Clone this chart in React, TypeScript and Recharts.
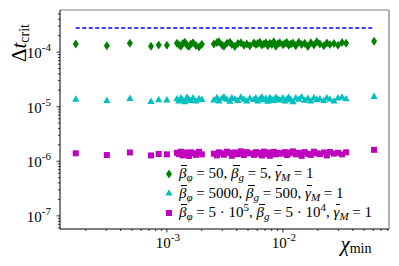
import React from 'react';
import { Legend, ReferenceLine, Scatter, ScatterChart, XAxis, YAxis } from 'recharts';

// chi_min of every run (shared by the three parameter sets)
const chiMin = [
  1.64e-4, 3.04e-4, 4.8e-4, 7.3e-4, 8.5e-4, 1.0e-3,
  1.22e-3, 1.27e-3, 1.32e-3, 1.37e-3, 1.43e-3, 1.49e-3, 1.55e-3, 1.61e-3, 1.68e-3, 1.78e-3, 1.89e-3, 2.0e-3,
  2.54e-3, 2.7e-3, 2.81e-3, 2.98e-3, 3.1e-3, 3.29e-3, 3.49e-3, 3.63e-3, 3.85e-3, 4.09e-3, 4.34e-3, 4.61e-3, 4.89e-3, 5.19e-3,
  5.62e-3, 5.85e-3, 6.08e-3, 6.33e-3, 6.58e-3, 6.85e-3, 7.12e-3, 7.41e-3, 7.71e-3, 8.02e-3, 8.34e-3, 8.68e-3, 9.03e-3, 9.39e-3,
  1.0e-2, 1.04e-2, 1.08e-2, 1.12e-2, 1.17e-2, 1.22e-2, 1.29e-2, 1.37e-2, 1.45e-2, 1.54e-2, 1.64e-2, 1.74e-2, 1.85e-2, 1.96e-2,
  2.08e-2, 2.25e-2, 2.39e-2, 2.54e-2, 2.75e-2, 2.98e-2, 3.23e-2, 3.5e-2,
  6.1e-2,
];

// dt_crit, beta_phi = 50 (units of 1e-4)
const dtGreen = [
  1.4, 1.3, 1.45, 1.28, 1.35, 1.33,
  1.45, 1.36, 1.28, 1.43, 1.52, 1.34, 1.26, 1.41, 1.49, 1.32, 1.24, 1.39,
  1.41, 1.5, 1.54, 1.35, 1.28, 1.45, 1.52, 1.37, 1.26, 1.43, 1.48, 1.34, 1.41, 1.3,
  1.46, 1.37, 1.43, 1.52, 1.35, 1.4, 1.49, 1.31, 1.45, 1.37, 1.54, 1.28, 1.42, 1.48,
  1.36, 1.44, 1.5, 1.33, 1.4, 1.46, 1.3, 1.52, 1.37, 1.45, 1.27, 1.49, 1.35, 1.54,
  1.4, 1.31, 1.47, 1.37, 1.43, 1.34, 1.5, 1.45,
  1.58,
];

// dt_crit, beta_phi = 5000 (units of 1e-5)
const dtCyan = [
  1.38, 1.3, 1.42, 1.25, 1.35, 1.33,
  1.4, 1.28, 1.46, 1.34, 1.24, 1.5, 1.38, 1.3, 1.45, 1.27, 1.41, 1.36,
  1.33, 1.47, 1.28, 1.43, 1.52, 1.37, 1.26, 1.46, 1.4, 1.31, 1.5, 1.38, 1.28, 1.44,
  1.36, 1.45, 1.28, 1.41, 1.51, 1.34, 1.43, 1.26, 1.47, 1.38, 1.3, 1.49, 1.4, 1.33,
  1.46, 1.28, 1.4, 1.5, 1.35, 1.24, 1.45, 1.38, 1.52, 1.32, 1.43, 1.27, 1.47, 1.36,
  1.4, 1.3, 1.46, 1.38, 1.28, 1.45, 1.5, 1.4,
  1.55,
];

// dt_crit, beta_phi = 5e5 (units of 1e-6)
const dtMagenta = [
  1.4, 1.3, 1.45, 1.28, 1.36, 1.34,
  1.43, 1.35, 1.5, 1.28, 1.45, 1.37, 1.25, 1.46, 1.4, 1.31, 1.49, 1.34,
  1.38, 1.28, 1.46, 1.4, 1.32, 1.5, 1.43, 1.26, 1.45, 1.35, 1.52, 1.3, 1.47, 1.4,
  1.31, 1.47, 1.37, 1.43, 1.28, 1.5, 1.35, 1.45, 1.26, 1.4, 1.49, 1.34, 1.43, 1.38,
  1.4, 1.47, 1.3, 1.38, 1.45, 1.52, 1.34, 1.43, 1.26, 1.47, 1.37, 1.31, 1.5, 1.4,
  1.35, 1.45, 1.28, 1.48, 1.38, 1.43, 1.34, 1.46,
  1.62,
];

const critLimit = 2.75e-4;

const xDomain = [1.2e-4, 8.2e-2];
const yDomain = [5.75e-8, 5.9e-4];
const xMajor = [1e-3, 1e-2];
const xMajorExp = ['3', '2'];
const yMajor = [1e-7, 1e-6, 1e-5, 1e-4];
const yMajorExp = ['7', '6', '5', '4'];

const legendPhi = ['50', '5000', '5 · 10'];
const legendPhiExp = ['', '', '5'];
const legendG = ['5', '500', '5 · 10'];
const legendGExp = ['', '', '4'];

const GREEN = '#008000';
const CYAN = '#00bfbf';
const MAGENTA = '#bf00bf';
const FONT = '"Liberation Serif", "DejaVu Serif", serif';

function logTicks(lo: number, hi: number) {
  const out: number[] = [];
  for (let e = Math.floor(Math.log10(lo)); e <= Math.ceil(Math.log10(hi)); e++) {
    for (let m = 1; m < 10; m++) {
      const v = m * Math.pow(10, e);
      if (v >= lo && v <= hi) out.push(v);
    }
  }
  return out;
}

const xTicks = logTicks(xDomain[0], xDomain[1]);
const yTicks = logTicks(yDomain[0], yDomain[1]);

const majorIndex = (v: number, majors: number[]) =>
  majors.findIndex((m) => Math.abs(v / m - 1) < 1e-6);

const greenData = chiMin.map((x, i) => ({ x, y: dtGreen[i] * 1e-4 }));
const cyanData = chiMin.map((x, i) => ({ x, y: dtCyan[i] * 1e-5 }));
const magentaData = chiMin.map((x, i) => ({ x, y: dtMagenta[i] * 1e-6 }));

function XTick(props: any) {
  const { x, y, payload } = props;
  const idx = majorIndex(payload.value, xMajor);
  const major = idx >= 0;
  return (
    <g>
      <line x1={x} x2={x} y1={y} y2={y + (major ? 3.5 : 2)} stroke="#000" strokeWidth={0.8} />
      {major && (
        <text x={x + 1} y={y + 19} textAnchor="middle" fontFamily={FONT} fontSize={15} fill="#000">
          10
          <tspan fontSize={11} dy={-7}>
            {'-' + xMajorExp[idx]}
          </tspan>
        </text>
      )}
    </g>
  );
}

function YTick(props: any) {
  const { x, y, payload } = props;
  const idx = majorIndex(payload.value, yMajor);
  const major = idx >= 0;
  return (
    <g>
      <line x1={x - (major ? 3.5 : 2)} x2={x} y1={y} y2={y} stroke="#000" strokeWidth={0.8} />
      {major && (
        <text x={x - 9} y={y + 6} textAnchor="end" fontFamily={FONT} fontSize={15} fill="#000">
          10
          <tspan fontSize={11} dy={-7}>
            {'-' + yMajorExp[idx]}
          </tspan>
        </text>
      )}
    </g>
  );
}

const Diamond = (p: any) => (
  <polygon
    points={`${p.cx},${p.cy - 4.5} ${p.cx + 3},${p.cy} ${p.cx},${p.cy + 4.5} ${p.cx - 3},${p.cy}`}
    fill={GREEN}
  />
);
const Triangle = (p: any) => (
  <polygon
    points={`${p.cx},${p.cy - 3.8} ${p.cx + 3.6},${p.cy + 2.6} ${p.cx - 3.6},${p.cy + 2.6}`}
    fill={CYAN}
  />
);
const Square = (p: any) => (
  <rect x={p.cx - 3} y={p.cy - 3} width={6} height={6} fill={MAGENTA} />
);

const markers = [
  <Diamond cx={5} cy={6} />,
  <Triangle cx={5} cy={6} />,
  <Square cx={5} cy={6} />,
];

const Sub = ({ children }: { children: React.ReactNode }) => (
  <span style={{ fontSize: 11, fontStyle: 'italic', position: 'relative', top: 3 }}>{children}</span>
);
const Sup = ({ children }: { children: React.ReactNode }) => (
  <span style={{ fontSize: 11, position: 'relative', top: -6 }}>{children}</span>
);
const Bar = ({ ch }: { ch: string }) => (
  <span style={{ fontStyle: 'italic', position: 'relative' }}>
    {ch}
    <span style={{ position: 'absolute', left: 2, right: -1, top: 0, borderTop: '1px solid #000' }} />
  </span>
);

function LegendBox() {
  return (
    <div style={{ fontFamily: FONT, fontSize: 15, lineHeight: '18.5px', color: '#000' }}>
      {legendPhi.map((phi, i) => (
        <div key={i} style={{ display: 'flex', alignItems: 'center', whiteSpace: 'nowrap' }}>
          <svg width={12} height={12} style={{ marginRight: 3 }}>
            {markers[i]}
          </svg>
          <span>
            <Bar ch="β" />
            <Sub>φ</Sub> = {phi}
            {legendPhiExp[i] && <Sup>{legendPhiExp[i]}</Sup>}, <Bar ch="β" />
            <Sub>g</Sub> = {legendG[i]}
            {legendGExp[i] && <Sup>{legendGExp[i]}</Sup>}, <Bar ch="γ" />
            <Sub>M</Sub> = 1
          </span>
        </div>
      ))}
    </div>
  );
}

const YLabel = () => (
  <text transform="translate(26,43) rotate(-90)" textAnchor="middle" fontFamily={FONT} fontSize={21} fill="#000">
    Δ<tspan fontStyle="italic">t</tspan>
    <tspan fontSize={14} dy={3}>
      crit
    </tspan>
  </text>
);

const XLabel = () => (
  <text x={356} y={251} textAnchor="middle" fontFamily={FONT} fontSize={21} fill="#000">
    <tspan fontStyle="italic">χ</tspan>
    <tspan fontSize={14} dy={2}>
      min
    </tspan>
  </text>
);

export default function App() {
  const last = chiMin.length - 1;
  return (
    <div style={{ position: 'absolute', left: 0, top: 0, width: 399, height: 266, background: '#fff' }}>
      <ScatterChart width={399} height={266} margin={{ top: 10, right: 10, bottom: 0, left: 0 }}>
        <XAxis
          type="number"
          dataKey="x"
          scale="log"
          domain={xDomain}
          allowDataOverflow
          ticks={xTicks}
          interval={0}
          tickSize={0}
          tickMargin={0}
          tickLine={false}
          tick={<XTick />}
          axisLine={{ stroke: '#000', strokeWidth: 1 }}
          height={37}
          label={<XLabel />}
        />
        <YAxis
          type="number"
          dataKey="y"
          scale="log"
          domain={yDomain}
          allowDataOverflow
          ticks={yTicks}
          interval={0}
          tickSize={0}
          tickMargin={0}
          tickLine={false}
          tick={<YTick />}
          axisLine={{ stroke: '#000', strokeWidth: 1 }}
          width={60}
          label={<YLabel />}
        />
        <ReferenceLine y={yDomain[1]} stroke="#808080" strokeWidth={1.2} ifOverflow="visible" />
        <ReferenceLine x={xDomain[1]} stroke="#808080" strokeWidth={1.2} ifOverflow="visible" />
        <ReferenceLine
          segment={[
            { x: chiMin[0], y: critLimit },
            { x: chiMin[last], y: critLimit },
          ]}
          stroke="#0000ff"
          strokeWidth={1.5}
          strokeDasharray="4 2.5"
          ifOverflow="visible"
        />
        <Scatter name="g" data={greenData} shape={Diamond} isAnimationActive={false} />
        <Scatter name="c" data={cyanData} shape={Triangle} isAnimationActive={false} />
        <Scatter name="m" data={magentaData} shape={Square} isAnimationActive={false} />
        <Legend
          layout="vertical"
          align="center"
          verticalAlign="middle"
          content={<LegendBox />}
          wrapperStyle={{ left: 164, top: 164, width: 'auto', height: 'auto' }}
        />
      </ScatterChart>
    </div>
  );
}
